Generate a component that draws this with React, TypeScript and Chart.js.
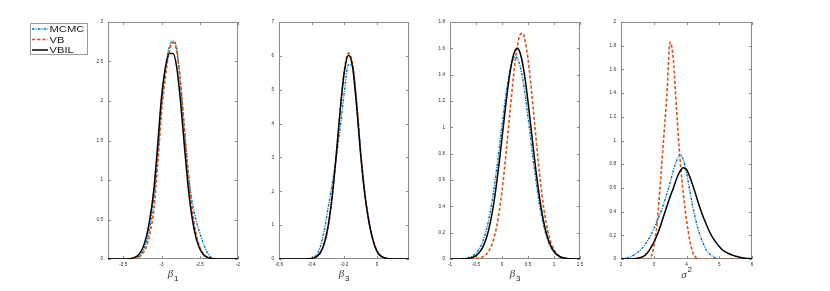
import React, { useEffect, useRef } from 'react';
import { Chart, registerables } from 'chart.js';

Chart.register(...registerables);

// ---------------- data ----------------
const seriesLabels = ['MCMC', 'VB', 'VBIL'];

// panel 1: beta_1
const beta1X = [-3.7, -3.65, -3.6, -3.55, -3.5, -3.45, -3.4, -3.35, -3.3, -3.25, -3.2, -3.15, -3.1, -3.05, -3.0, -2.95, -2.9, -2.85, -2.8, -2.75, -2.7, -2.65, -2.6, -2.55, -2.5, -2.45, -2.4, -2.35, -2.3, -2.25, -2.2, -2.15, -2.1, -2.05, -2.0];
const beta1MCMC = [0, 0, 0, 0, 0, 0, 0.002, 0.008, 0.03, 0.09, 0.21, 0.43, 0.78, 1.3, 1.95, 2.42, 2.68, 2.76, 2.66, 2.2, 1.62, 1.08, 0.72, 0.5, 0.33, 0.19, 0.08, 0.02, 0.004, 0, 0, 0, 0, 0, 0];
const beta1VB = [0, 0, 0, 0, 0, 0, 0.002, 0.008, 0.023, 0.063, 0.152, 0.33, 0.63, 1.2, 1.85, 2.3, 2.62, 2.74, 2.62, 2.22, 1.65, 1.08, 0.63, 0.33, 0.15, 0.063, 0.023, 0.008, 0.002, 0, 0, 0, 0, 0, 0];
const beta1VBIL = [0, 0, 0, 0, 0, 0.001, 0.007, 0.021, 0.055, 0.13, 0.273, 0.52, 0.885, 1.45, 2.05, 2.42, 2.6, 2.6, 2.42, 1.98, 1.42, 0.9, 0.52, 0.273, 0.13, 0.055, 0.021, 0.007, 0.002, 0, 0, 0, 0, 0, 0];

// panel 2: beta_3 (first)
const beta3aX = [-0.6, -0.575, -0.55, -0.525, -0.5, -0.475, -0.45, -0.425, -0.4, -0.375, -0.35, -0.325, -0.3, -0.275, -0.25, -0.225, -0.2, -0.175, -0.15, -0.125, -0.1, -0.075, -0.05, -0.025, 0, 0.025, 0.05, 0.075, 0.1, 0.125, 0.15, 0.175, 0.2];
const beta3aMCMC = [0, 0, 0, 0, 0, 0, 0, 0.006, 0.025, 0.1, 0.33, 0.8, 1.5, 2.2, 3.0, 3.9, 4.95, 5.74, 5.7, 4.6, 3.1, 1.9, 1.1, 0.55, 0.22, 0.08, 0.025, 0.006, 0, 0, 0, 0, 0];
const beta3aVB = [0, 0, 0, 0, 0, 0, 0, 0.003, 0.013, 0.05, 0.155, 0.41, 0.93, 1.82, 3.06, 4.46, 5.6, 6.08, 5.75, 4.62, 3.15, 1.95, 1.12, 0.56, 0.23, 0.085, 0.028, 0.008, 0.002, 0, 0, 0, 0];
const beta3aVBIL = [0, 0, 0, 0, 0, 0, 0.001, 0.004, 0.017, 0.058, 0.17, 0.435, 0.96, 1.84, 3.07, 4.43, 5.54, 6.02, 5.67, 4.5, 3.05, 1.9, 1.1, 0.55, 0.22, 0.08, 0.025, 0.006, 0.001, 0, 0, 0, 0];

// panel 3: beta_3 (second)
const beta3bX = [-1, -0.95, -0.9, -0.85, -0.8, -0.75, -0.7, -0.65, -0.6, -0.55, -0.5, -0.45, -0.4, -0.35, -0.3, -0.25, -0.2, -0.15, -0.1, -0.05, 0, 0.05, 0.1, 0.15, 0.2, 0.25, 0.3, 0.35, 0.4, 0.45, 0.5, 0.55, 0.6, 0.65, 0.7, 0.75, 0.8, 0.85, 0.9, 0.95, 1, 1.05, 1.1, 1.15, 1.2, 1.25, 1.3, 1.35, 1.4, 1.45, 1.5];
const beta3bMCMC = [0, 0, 0.001, 0.001, 0.002, 0.003, 0.005, 0.009, 0.016, 0.027, 0.044, 0.069, 0.105, 0.156, 0.223, 0.31, 0.418, 0.546, 0.692, 0.85, 1.014, 1.171, 1.313, 1.427, 1.503, 1.536, 1.522, 1.462, 1.362, 1.231, 1.078, 0.915, 0.754, 0.603, 0.467, 0.35, 0.255, 0.18, 0.123, 0.082, 0.053, 0.033, 0.02, 0.012, 0.006, 0.003, 0.001, 0, 0, 0, 0];
const beta3bVB = [0, 0, 0, 0, 0, 0, 0, 0, 0, 0, 0.003, 0.0055, 0.011, 0.02, 0.036, 0.063, 0.104, 0.165, 0.251, 0.367, 0.515, 0.692, 0.892, 1.103, 1.308, 1.489, 1.625, 1.705, 1.714, 1.645, 1.52, 1.347, 1.145, 0.934, 0.73, 0.548, 0.394, 0.273, 0.18, 0.114, 0.07, 0.041, 0.023, 0.012, 0.006, 0.003, 0.001, 0, 0, 0, 0];
const beta3bVBIL = [0, 0, 0, 0, 0, 0.001, 0.002, 0.005, 0.008, 0.015, 0.026, 0.043, 0.069, 0.107, 0.16, 0.233, 0.327, 0.445, 0.586, 0.745, 0.918, 1.093, 1.26, 1.405, 1.517, 1.583, 1.6, 1.562, 1.477, 1.351, 1.195, 1.023, 0.848, 0.679, 0.527, 0.395, 0.286, 0.201, 0.137, 0.09, 0.057, 0.035, 0.021, 0.012, 0.007, 0.004, 0.002, 0.001, 0, 0, 0];

// panel 4: sigma^2
const sigma2X = [2, 2.1, 2.2, 2.3, 2.4, 2.5, 2.6, 2.7, 2.8, 2.9, 3, 3.1, 3.2, 3.3, 3.4, 3.5, 3.6, 3.7, 3.8, 3.9, 4, 4.1, 4.2, 4.3, 4.4, 4.5, 4.6, 4.7, 4.8, 4.9, 5, 5.1, 5.2, 5.3, 5.4, 5.5, 5.6, 5.7, 5.8, 5.9, 6];
const sigma2MCMC = [0.003, 0.006, 0.01, 0.02, 0.035, 0.055, 0.075, 0.11, 0.15, 0.195, 0.255, 0.32, 0.385, 0.465, 0.55, 0.645, 0.75, 0.83, 0.882, 0.84, 0.73, 0.58, 0.43, 0.31, 0.21, 0.14, 0.076, 0.045, 0.022, 0.008, 0.002, 0, 0, 0, 0, 0, 0, 0, 0, 0, 0];
const sigma2VB = [0, 0, 0, 0, 0, 0, 0, 0, 0, 0.01, 0.1, 0.29, 0.635, 1.007, 1.38, 1.83, 1.68, 1.25, 0.85, 0.56, 0.33, 0.16, 0.05, 0.01, 0, 0, 0, 0, 0, 0, 0, 0, 0, 0, 0, 0, 0, 0, 0, 0, 0];
const sigma2VBIL = [0, 0, 0, 0.001, 0.003, 0.006, 0.012, 0.025, 0.05, 0.09, 0.14, 0.2, 0.275, 0.36, 0.445, 0.525, 0.6, 0.68, 0.74, 0.771, 0.755, 0.695, 0.615, 0.528, 0.44, 0.363, 0.295, 0.232, 0.18, 0.14, 0.105, 0.076, 0.058, 0.044, 0.033, 0.024, 0.017, 0.011, 0.007, 0.004, 0.002];

// axis ranges and tick labels
const xRanges = [[-3.7, -2], [-0.6, 0.195], [-1, 1.5], [2, 6]];
const xTicks1 = [-3.5, -3, -2.5, -2];
const xTicks2 = [-0.6, -0.4, -0.2, 0];
const xTicks3 = [-1, -0.5, 0, 0.5, 1, 1.5];
const xTicks4 = [2, 3, 4, 5, 6];
const yTicks1 = [0, 0.5, 1, 1.5, 2, 2.5, 3];
const yTicks2 = [0, 1, 2, 3, 4, 5, 6, 7];
const yTicks3 = [0, 0.2, 0.4, 0.6, 0.8, 1, 1.2, 1.4, 1.6, 1.8];
const yTicks4 = [0, 0.2, 0.4, 0.6, 0.8, 1, 1.2, 1.4, 1.6, 1.8, 2];
const axisSymbols = ['β', 'β', 'β', 'σ'];
const axisIndices = ['1', '3', '3', '2'];

const xTickSets = [xTicks1, xTicks2, xTicks3, xTicks4];
const yTickSets = [yTicks1, yTicks2, yTicks3, yTicks4];

// ---------------- layout / style ----------------
const PANEL_LEFT = [108, 279, 450, 621];
const PANEL_W = [130, 130, 130, 131];
const TOP = 22;
const BOTTOM = 259;
const H = 291;

const COLORS = ['#0072BD', '#D95319', '#000000'];
const WIDTHS = [1.4, 1.6, 1.5];
const DASHES: number[][] = [[2.5, 1.2, 1, 1.2], [3.2, 2], []];
const ORDERS = [2, 1, 0];
const TICK_FONT = { family: '"Liberation Sans", Arial, sans-serif', size: 4.6 };
const TICK_COLOR = '#262626';

const fmt = (v: any) => String(Math.round(Number(v) * 1000) / 1000);

const boxPlugin = {
  id: 'mlBox',
  beforeDatasetsDraw(chart: any) {
    const { ctx, chartArea } = chart;
    const { left, top, right, bottom } = chartArea;
    const xs = chart.scales.x;
    const ys = chart.scales.y;
    ctx.save();
    ctx.strokeStyle = '#8c8c8c';
    ctx.lineWidth = 1;
    ctx.strokeRect(left + 0.5, top + 0.5, right - left - 1, bottom - top - 1);
    ctx.beginPath();
    const tl = 3;
    xs.ticks.forEach((t: any) => {
      const px = Math.round(xs.getPixelForValue(t.value)) + 0.5;
      ctx.moveTo(px, bottom);
      ctx.lineTo(px, bottom - tl);
      ctx.moveTo(px, top);
      ctx.lineTo(px, top + tl);
    });
    ys.ticks.forEach((t: any) => {
      const py = Math.round(ys.getPixelForValue(t.value)) + 0.5;
      ctx.moveTo(left, py);
      ctx.lineTo(left + tl, py);
      ctx.moveTo(right, py);
      ctx.lineTo(right - tl, py);
    });
    ctx.stroke();
    ctx.restore();
  },
};

const titlePlugin = {
  id: 'mlTitle',
  afterDraw(chart: any, _args: any, opts: any) {
    const { ctx, chartArea } = chart;
    const cx = (chartArea.left + chartArea.right) / 2;
    const mainFont = 'italic 11px "Liberation Serif", "DejaVu Serif", serif';
    const subFont = '8px "Liberation Sans", Arial, sans-serif';
    ctx.save();
    ctx.font = mainFont;
    const mw = ctx.measureText(opts.main).width;
    ctx.font = subFont;
    const sw = ctx.measureText(opts.sub).width;
    const gap = 0.8;
    const x0 = cx - (mw + gap + sw) / 2;
    ctx.textBaseline = 'alphabetic';
    ctx.textAlign = 'left';
    ctx.fillStyle = '#3a3a3a';
    ctx.font = mainFont;
    ctx.fillText(opts.main, x0, opts.sup ? 278 : 277);
    ctx.fillStyle = '#222';
    ctx.font = subFont;
    ctx.fillText(opts.sub, x0 + mw + gap, opts.sup ? 272 : 280.5);
    ctx.restore();
  },
};

const legendPlugin = {
  id: 'mlLegend',
  afterDraw(chart: any) {
    const ctx = chart.ctx;
    ctx.save();
    ctx.fillStyle = '#ffffff';
    ctx.fillRect(30, 23, 58, 32);
    ctx.strokeStyle = '#9a9a9a';
    ctx.lineWidth = 1;
    ctx.strokeRect(30.5, 23.5, 57, 31);
    chart.data.datasets.forEach((ds: any, i: number) => {
      const y = 29 + i * 10.5;
      ctx.strokeStyle = ds.borderColor;
      ctx.lineWidth = ds.borderWidth;
      ctx.setLineDash(ds.borderDash || []);
      ctx.beginPath();
      ctx.moveTo(32, y);
      ctx.lineTo(48, y);
      ctx.stroke();
      ctx.setLineDash([]);
      ctx.fillStyle = '#1a1a1a';
      ctx.font = '9.5px "Liberation Sans", Arial, sans-serif';
      ctx.textBaseline = 'middle';
      ctx.textAlign = 'left';
      ctx.save();
      ctx.translate(49.5, y + 0.5);
      ctx.scale(1.18, 1);
      ctx.fillText(ds.label, 0, 0);
      ctx.restore();
    });
    ctx.restore();
  },
};

const panelData = [
  [beta1X, beta1MCMC, beta1VB, beta1VBIL],
  [beta3aX, beta3aMCMC, beta3aVB, beta3aVBIL],
  [beta3bX, beta3bMCMC, beta3bVB, beta3bVBIL],
  [sigma2X, sigma2MCMC, sigma2VB, sigma2VBIL],
];

function Panel({ k }: { k: number }) {
  const ref = useRef<HTMLCanvasElement | null>(null);
  const withLegend = k === 0;
  const canvasLeft = withLegend ? 0 : PANEL_LEFT[k] - 40;
  const yW = PANEL_LEFT[k] - canvasLeft;
  const cw = yW + PANEL_W[k] + 14;

  useEffect(() => {
    if (!ref.current) return;
    const [xs, ...series] = panelData[k];
    const datasets = series.map((ys, i) => ({
      label: seriesLabels[i],
      data: xs.map((x, j) => ({ x, y: ys[j] })),
      borderColor: COLORS[i],
      backgroundColor: COLORS[i],
      borderWidth: WIDTHS[i],
      borderDash: DASHES[i],
      pointRadius: 0,
      fill: false,
      tension: 0,
      cubicInterpolationMode: 'monotone' as const,
      order: ORDERS[i],
    }));
    const plugins: any[] = [boxPlugin, titlePlugin];
    if (withLegend) plugins.push(legendPlugin);
    const chart = new Chart(ref.current, {
      type: 'line',
      data: { datasets },
      options: {
        animation: false,
        responsive: false,
        events: [],
        devicePixelRatio: 1,
        layout: { padding: { top: TOP, right: cw - yW - PANEL_W[k], left: 0, bottom: 0 } },
        plugins: {
          legend: { display: false },
          tooltip: { enabled: false },
          mlTitle: { main: axisSymbols[k], sub: axisIndices[k], sup: k === 3 },
        } as any,
        scales: {
          x: {
            type: 'linear',
            min: xRanges[k][0],
            max: xRanges[k][1],
            grid: { display: false, drawTicks: false, tickLength: 0 },
            border: { display: false },
            afterBuildTicks: (s: any) => {
              s.ticks = xTickSets[k].map((v) => ({ value: v }));
            },
            ticks: {
              autoSkip: false,
              maxRotation: 0,
              padding: 2.5,
              font: TICK_FONT,
              color: TICK_COLOR,
              callback: fmt,
            },
            afterFit: (s: any) => {
              s.height = H - BOTTOM;
            },
          },
          y: {
            type: 'linear',
            min: 0,
            max: yTickSets[k][yTickSets[k].length - 1],
            grid: { display: false, drawTicks: false, tickLength: 0 },
            border: { display: false },
            afterBuildTicks: (s: any) => {
              s.ticks = yTickSets[k].map((v) => ({ value: v }));
            },
            ticks: {
              autoSkip: false,
              padding: 5,
              font: TICK_FONT,
              color: TICK_COLOR,
              callback: fmt,
            },
            afterFit: (s: any) => {
              s.width = yW;
            },
          },
        },
      } as any,
      plugins,
    });
    return () => chart.destroy();
  }, [k]);

  return (
    <canvas
      ref={ref}
      width={cw}
      height={H}
      style={{ position: 'absolute', left: canvasLeft, top: 0, width: cw, height: H }}
    />
  );
}

export default function App() {
  return (
    <div style={{ position: 'absolute', left: 0, top: 0, width: 830, height: H, background: '#fff' }}>
      {[0, 1, 2, 3].map((k) => (
        <Panel key={k} k={k} />
      ))}
    </div>
  );
}
